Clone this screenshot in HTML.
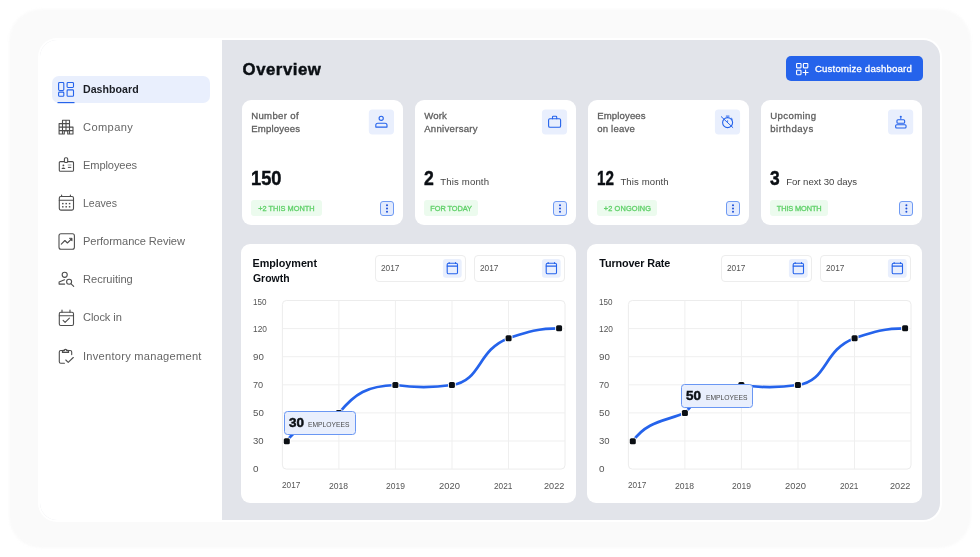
<!DOCTYPE html><html lang="en"><head><meta charset="utf-8"><title>Overview dashboard</title><style>
html,body{margin:0;padding:0;background:#fff;}
body{width:980px;height:557px;position:relative;overflow:hidden;font-family:'Liberation Sans',sans-serif;}
div,span,aside,main,nav,section,h1,h2,button,a{position:absolute;box-sizing:border-box;margin:0;padding:0;}
.t{white-space:nowrap;display:block;}
.frame{left:9px;top:9px;width:961.5px;height:538.5px;border-radius:32px;background:#fafafa;filter:blur(1.2px);}
.app{left:40px;top:40px;width:900px;height:480px;border-radius:17px;background:#e2e4ea;box-shadow:0 0 0 2px #fff;}
.sidebar{left:0;top:0;width:182px;height:100%;background:#fff;border-radius:17px 0 0 17px;}
.active{border-radius:7px;background:#e9effd;}
.card{background:#fff;border-radius:9px;}
.ibox{background:#e9effd;border-radius:4px;}
.badge{background:#ecfbee;border-radius:3px;}
.menu{background:#e3ebfd;border:1px solid #6f9af3;border-radius:3px;}
.btn{background:#2563eb;border-radius:5px;}
.inp{background:#fff;border:1px solid #ededed;border-radius:4px;}
.tip{background:#e9effd;border:1px solid #6a97f3;border-radius:3.5px;}
svg{position:absolute;left:0;top:0;}
</style></head><body>
<div class="frame"></div>
<div class="app"><aside class="sidebar"></aside></div>
<nav>
<div class="active" style="left:52px;top:75.8px;width:158px;height:27px;"></div>
<a class="t" style="left:83.0px;top:84.16px;font-size:10.6px;line-height:10.6px;font-weight:700;color:#1a1d24;letter-spacing:0.04px">Dashboard</a>
<a class="t" style="left:83.0px;top:121.96px;font-size:11.1px;line-height:11.1px;font-weight:400;color:#666;letter-spacing:0.39px">Company</a>
<a class="t" style="left:83.0px;top:160.06px;font-size:11.1px;line-height:11.1px;font-weight:400;color:#666;letter-spacing:-0.11px">Employees</a>
<a class="t" style="left:83.0px;top:198.15px;font-size:11.1px;line-height:11.1px;font-weight:400;color:#666;transform:scaleX(0.950);transform-origin:0 0;letter-spacing:0.00px">Leaves</a>
<a class="t" style="left:83.0px;top:236.26px;font-size:11.1px;line-height:11.1px;font-weight:400;color:#666;letter-spacing:-0.06px">Performance Review</a>
<a class="t" style="left:83.0px;top:274.37px;font-size:11.1px;line-height:11.1px;font-weight:400;color:#666;letter-spacing:-0.02px">Recruiting</a>
<a class="t" style="left:83.0px;top:312.46px;font-size:11.1px;line-height:11.1px;font-weight:400;color:#666;letter-spacing:-0.08px">Clock in</a>
<a class="t" style="left:83.0px;top:350.56px;font-size:11.1px;line-height:11.1px;font-weight:400;color:#666;letter-spacing:0.26px">Inventory management</a>
</nav>
<main>
<h1 class="t" style="left:242.6px;top:62.30px;font-size:16.8px;line-height:16.8px;font-weight:700;color:#0b0f14;-webkit-text-stroke:0.45px #0b0f14;letter-spacing:0.52px">Overview</h1>
<div class="btn" style="left:786px;top:55.8px;width:136.8px;height:25.6px;"></div>
<span class="t" style="left:814.9px;top:64.01px;font-size:9.6px;line-height:9.6px;font-weight:400;color:#ffffff;-webkit-text-stroke:0.3px #ffffff;letter-spacing:0.20px">Customize dashboard</span>
<section>
<div class="card" style="left:241.5px;top:100px;width:161.8px;height:124.8px;"></div>
<span class="t" style="left:251.2px;top:110.91px;font-size:9.6px;line-height:9.6px;font-weight:400;color:#5f5f5f;-webkit-text-stroke:0.3px #5f5f5f;letter-spacing:0.33px">Number of</span>
<span class="t" style="left:251.2px;top:123.60px;font-size:9.6px;line-height:9.6px;font-weight:400;color:#5f5f5f;-webkit-text-stroke:0.3px #5f5f5f;letter-spacing:0.19px">Employees</span>
<span class="t" style="left:251.2px;top:168.62px;font-size:19.5px;line-height:19.5px;font-weight:700;color:#0b0f14;-webkit-text-stroke:0.45px #0b0f14;transform:scaleX(0.937);transform-origin:0 0;letter-spacing:0.00px">150</span>
<div class="badge" style="left:251.1px;top:200.2px;width:70.6px;height:15.6px;"></div>
<span class="t" style="left:258.2px;top:204.80px;font-size:7.4px;line-height:7.4px;font-weight:400;color:#5fd068;-webkit-text-stroke:0.3px #5fd068;letter-spacing:0.01px">+2 THIS MONTH</span>
<div class="menu" style="left:380.1px;top:201.2px;width:13.8px;height:14.6px;"></div>
</section>
<section>
<div class="card" style="left:414.5px;top:100px;width:161.8px;height:124.8px;"></div>
<span class="t" style="left:424.2px;top:110.91px;font-size:9.6px;line-height:9.6px;font-weight:400;color:#5f5f5f;-webkit-text-stroke:0.3px #5f5f5f;letter-spacing:0.13px">Work</span>
<span class="t" style="left:424.2px;top:123.60px;font-size:9.6px;line-height:9.6px;font-weight:400;color:#5f5f5f;-webkit-text-stroke:0.3px #5f5f5f;letter-spacing:0.28px">Anniversary</span>
<span class="t" style="left:424.2px;top:168.62px;font-size:19.5px;line-height:19.5px;font-weight:700;color:#0b0f14;-webkit-text-stroke:0.45px #0b0f14;transform:scaleX(0.902);transform-origin:0 0;letter-spacing:0.00px">2</span>
<span class="t" style="left:440.3px;top:176.60px;font-size:9.6px;line-height:9.6px;font-weight:400;color:#444;letter-spacing:0.14px">This month</span>
<div class="badge" style="left:424.1px;top:200.2px;width:54px;height:15.6px;"></div>
<span class="t" style="left:430.3px;top:204.80px;font-size:7.4px;line-height:7.4px;font-weight:400;color:#5fd068;-webkit-text-stroke:0.3px #5fd068;letter-spacing:-0.07px">FOR TODAY</span>
<div class="menu" style="left:553.1px;top:201.2px;width:13.8px;height:14.6px;"></div>
</section>
<section>
<div class="card" style="left:587.5px;top:100px;width:161.8px;height:124.8px;"></div>
<span class="t" style="left:597.2px;top:110.91px;font-size:9.6px;line-height:9.6px;font-weight:400;color:#5f5f5f;-webkit-text-stroke:0.3px #5f5f5f;letter-spacing:0.12px">Employees</span>
<span class="t" style="left:597.2px;top:123.60px;font-size:9.6px;line-height:9.6px;font-weight:400;color:#5f5f5f;-webkit-text-stroke:0.3px #5f5f5f;letter-spacing:0.20px">on leave</span>
<span class="t" style="left:597.2px;top:168.62px;font-size:19.5px;line-height:19.5px;font-weight:700;color:#0b0f14;-webkit-text-stroke:0.45px #0b0f14;transform:scaleX(0.779);transform-origin:0 0;letter-spacing:0.00px">12</span>
<span class="t" style="left:620.4px;top:176.60px;font-size:9.6px;line-height:9.6px;font-weight:400;color:#444;letter-spacing:0.09px">This month</span>
<div class="badge" style="left:597.1px;top:200.2px;width:60.4px;height:15.6px;"></div>
<span class="t" style="left:603.8px;top:204.80px;font-size:7.4px;line-height:7.4px;font-weight:400;color:#5fd068;-webkit-text-stroke:0.3px #5fd068;letter-spacing:0.11px">+2 ONGOING</span>
<div class="menu" style="left:726.1px;top:201.2px;width:13.8px;height:14.6px;"></div>
</section>
<section>
<div class="card" style="left:760.5px;top:100px;width:161.8px;height:124.8px;"></div>
<span class="t" style="left:770.2px;top:110.91px;font-size:9.6px;line-height:9.6px;font-weight:400;color:#5f5f5f;-webkit-text-stroke:0.3px #5f5f5f;letter-spacing:0.40px">Upcoming</span>
<span class="t" style="left:770.2px;top:123.60px;font-size:9.6px;line-height:9.6px;font-weight:400;color:#5f5f5f;-webkit-text-stroke:0.3px #5f5f5f;letter-spacing:0.51px">birthdays</span>
<span class="t" style="left:770.2px;top:168.62px;font-size:19.5px;line-height:19.5px;font-weight:700;color:#0b0f14;-webkit-text-stroke:0.45px #0b0f14;transform:scaleX(0.893);transform-origin:0 0;letter-spacing:0.00px">3</span>
<span class="t" style="left:786.2px;top:176.60px;font-size:9.6px;line-height:9.6px;font-weight:400;color:#444;letter-spacing:-0.04px">For next 30 days</span>
<div class="badge" style="left:770.1px;top:200.2px;width:58px;height:15.6px;"></div>
<span class="t" style="left:776.8px;top:204.80px;font-size:7.4px;line-height:7.4px;font-weight:400;color:#5fd068;-webkit-text-stroke:0.3px #5fd068;letter-spacing:-0.13px">THIS MONTH</span>
<div class="menu" style="left:899.1px;top:201.2px;width:13.8px;height:14.6px;"></div>
</section>
<section>
<div class="card" style="left:241px;top:244px;width:335.2px;height:258.6px;"></div>
<div class="inp" style="left:375.4px;top:255.4px;width:90.6px;height:26.6px;"></div>
<div class="inp" style="left:474.4px;top:255.4px;width:90.6px;height:26.6px;"></div>
<span class="t" style="left:252.5px;top:257.80px;font-size:10.8px;line-height:10.8px;font-weight:700;color:#0b0f14;letter-spacing:-0.03px">Employment</span>
<span class="t" style="left:252.5px;top:272.50px;font-size:10.8px;line-height:10.8px;font-weight:700;color:#0b0f14;transform:scaleX(0.966);transform-origin:0 0;letter-spacing:0.00px">Growth</span>
<span class="t" style="left:381.0px;top:264.31px;font-size:9.2px;line-height:9.2px;font-weight:400;color:#555;transform:scaleX(0.905);transform-origin:0 0;letter-spacing:0.00px">2017</span>
<span class="t" style="left:480.0px;top:264.31px;font-size:9.2px;line-height:9.2px;font-weight:400;color:#555;transform:scaleX(0.905);transform-origin:0 0;letter-spacing:0.00px">2017</span>
<span class="t" style="left:252.6px;top:298.11px;font-size:9.0px;line-height:9.0px;font-weight:400;color:#555;transform:scaleX(0.898);transform-origin:0 0;letter-spacing:0.00px">150</span>
<span class="t" style="left:252.6px;top:324.70px;font-size:9.0px;line-height:9.0px;font-weight:400;color:#555;transform:scaleX(0.931);transform-origin:0 0;letter-spacing:0.00px">120</span>
<span class="t" style="left:252.6px;top:352.81px;font-size:9.0px;line-height:9.0px;font-weight:400;color:#555;transform:scaleX(1.078);transform-origin:0 0;letter-spacing:0.00px">90</span>
<span class="t" style="left:252.6px;top:380.92px;font-size:9.0px;line-height:9.0px;font-weight:400;color:#555;transform:scaleX(1.018);transform-origin:0 0;letter-spacing:0.00px">70</span>
<span class="t" style="left:252.6px;top:409.01px;font-size:9.0px;line-height:9.0px;font-weight:400;color:#555;transform:scaleX(1.078);transform-origin:0 0;letter-spacing:0.00px">50</span>
<span class="t" style="left:252.6px;top:437.11px;font-size:9.0px;line-height:9.0px;font-weight:400;color:#555;transform:scaleX(1.058);transform-origin:0 0;letter-spacing:0.00px">30</span>
<span class="t" style="left:252.6px;top:465.20px;font-size:9.0px;line-height:9.0px;font-weight:400;color:#555;transform:scaleX(1.097);transform-origin:0 0;letter-spacing:0.00px">0</span>
<span class="t" style="left:282.0px;top:480.21px;font-size:9.4px;line-height:9.4px;font-weight:400;color:#555;transform:scaleX(0.877);transform-origin:0 0;letter-spacing:0.00px">2017</span>
<span class="t" style="left:328.5px;top:481.01px;font-size:9.4px;line-height:9.4px;font-weight:400;color:#555;transform:scaleX(0.916);transform-origin:0 0;letter-spacing:0.00px">2018</span>
<span class="t" style="left:385.8px;top:481.01px;font-size:9.4px;line-height:9.4px;font-weight:400;color:#555;transform:scaleX(0.906);transform-origin:0 0;letter-spacing:0.00px">2019</span>
<span class="t" style="left:438.8px;top:481.01px;font-size:9.4px;line-height:9.4px;font-weight:400;color:#555;transform:scaleX(1.002);transform-origin:0 0;letter-spacing:0.00px">2020</span>
<span class="t" style="left:494.0px;top:481.01px;font-size:9.4px;line-height:9.4px;font-weight:400;color:#555;transform:scaleX(0.882);transform-origin:0 0;letter-spacing:0.00px">2021</span>
<span class="t" style="left:543.5px;top:481.01px;font-size:9.4px;line-height:9.4px;font-weight:400;color:#555;transform:scaleX(0.973);transform-origin:0 0;letter-spacing:0.00px">2022</span>
</section>
<section>
<div class="card" style="left:587px;top:244px;width:335.2px;height:258.6px;"></div>
<div class="inp" style="left:721.4px;top:255.4px;width:90.6px;height:26.6px;"></div>
<div class="inp" style="left:820.4px;top:255.4px;width:90.6px;height:26.6px;"></div>
<span class="t" style="left:599.3px;top:258.00px;font-size:10.8px;line-height:10.8px;font-weight:700;color:#0b0f14;letter-spacing:-0.12px">Turnover Rate</span>
<span class="t" style="left:727.0px;top:264.31px;font-size:9.2px;line-height:9.2px;font-weight:400;color:#555;transform:scaleX(0.905);transform-origin:0 0;letter-spacing:0.00px">2017</span>
<span class="t" style="left:826.0px;top:264.31px;font-size:9.2px;line-height:9.2px;font-weight:400;color:#555;transform:scaleX(0.905);transform-origin:0 0;letter-spacing:0.00px">2017</span>
<span class="t" style="left:598.6px;top:298.11px;font-size:9.0px;line-height:9.0px;font-weight:400;color:#555;transform:scaleX(0.898);transform-origin:0 0;letter-spacing:0.00px">150</span>
<span class="t" style="left:598.6px;top:324.70px;font-size:9.0px;line-height:9.0px;font-weight:400;color:#555;transform:scaleX(0.931);transform-origin:0 0;letter-spacing:0.00px">120</span>
<span class="t" style="left:598.6px;top:352.81px;font-size:9.0px;line-height:9.0px;font-weight:400;color:#555;transform:scaleX(1.078);transform-origin:0 0;letter-spacing:0.00px">90</span>
<span class="t" style="left:598.6px;top:380.92px;font-size:9.0px;line-height:9.0px;font-weight:400;color:#555;transform:scaleX(1.018);transform-origin:0 0;letter-spacing:0.00px">70</span>
<span class="t" style="left:598.6px;top:409.01px;font-size:9.0px;line-height:9.0px;font-weight:400;color:#555;transform:scaleX(1.078);transform-origin:0 0;letter-spacing:0.00px">50</span>
<span class="t" style="left:598.6px;top:437.11px;font-size:9.0px;line-height:9.0px;font-weight:400;color:#555;transform:scaleX(1.058);transform-origin:0 0;letter-spacing:0.00px">30</span>
<span class="t" style="left:598.6px;top:465.20px;font-size:9.0px;line-height:9.0px;font-weight:400;color:#555;transform:scaleX(1.097);transform-origin:0 0;letter-spacing:0.00px">0</span>
<span class="t" style="left:628.0px;top:480.21px;font-size:9.4px;line-height:9.4px;font-weight:400;color:#555;transform:scaleX(0.877);transform-origin:0 0;letter-spacing:0.00px">2017</span>
<span class="t" style="left:674.5px;top:481.01px;font-size:9.4px;line-height:9.4px;font-weight:400;color:#555;transform:scaleX(0.916);transform-origin:0 0;letter-spacing:0.00px">2018</span>
<span class="t" style="left:731.8px;top:481.01px;font-size:9.4px;line-height:9.4px;font-weight:400;color:#555;transform:scaleX(0.906);transform-origin:0 0;letter-spacing:0.00px">2019</span>
<span class="t" style="left:784.8px;top:481.01px;font-size:9.4px;line-height:9.4px;font-weight:400;color:#555;transform:scaleX(1.002);transform-origin:0 0;letter-spacing:0.00px">2020</span>
<span class="t" style="left:840.0px;top:481.01px;font-size:9.4px;line-height:9.4px;font-weight:400;color:#555;transform:scaleX(0.882);transform-origin:0 0;letter-spacing:0.00px">2021</span>
<span class="t" style="left:889.5px;top:481.01px;font-size:9.4px;line-height:9.4px;font-weight:400;color:#555;transform:scaleX(0.973);transform-origin:0 0;letter-spacing:0.00px">2022</span>
</section>
<svg width="980" height="557" viewBox="0 0 980 557">
<rect x="282.4" y="300.5" width="282.6" height="168.6" rx="4" fill="none" stroke="#ececec" stroke-width="1"/><line x1="282.4" x2="565.0" y1="328.6" y2="328.6" stroke="#efefef" stroke-width="1"/><line x1="282.4" x2="565.0" y1="356.7" y2="356.7" stroke="#efefef" stroke-width="1"/><line x1="282.4" x2="565.0" y1="384.8" y2="384.8" stroke="#efefef" stroke-width="1"/><line x1="282.4" x2="565.0" y1="412.9" y2="412.9" stroke="#efefef" stroke-width="1"/><line x1="282.4" x2="565.0" y1="441.0" y2="441.0" stroke="#efefef" stroke-width="1"/><line x1="338.9" x2="338.9" y1="300.5" y2="469.1" stroke="#efefef" stroke-width="1"/><line x1="395.4" x2="395.4" y1="300.5" y2="469.1" stroke="#efefef" stroke-width="1"/><line x1="452.0" x2="452.0" y1="300.5" y2="469.1" stroke="#efefef" stroke-width="1"/><line x1="508.5" x2="508.5" y1="300.5" y2="469.1" stroke="#efefef" stroke-width="1"/><path d="M286.8 441.3C300.8 421.3 318.9 421.1 338.9 413.1C354.9 393.1 367.4 386.0 395.4 385.0C415.4 388.0 431.9 388.0 451.9 385.0C481.9 381.0 476.6 350.2 508.6 338.2C526.6 332.2 537.1 328.3 559.1 328.3" fill="none" stroke="#2563eb" stroke-width="2.7" stroke-linecap="round"/><rect x="282.9" y="437.4" width="7.8" height="7.8" rx="2.3" fill="#fff"/><rect x="283.8" y="438.3" width="6" height="6" rx="1.5" fill="#0b0f14"/><rect x="335.0" y="409.2" width="7.8" height="7.8" rx="2.3" fill="#fff"/><rect x="335.9" y="410.1" width="6" height="6" rx="1.5" fill="#0b0f14"/><rect x="391.5" y="381.1" width="7.8" height="7.8" rx="2.3" fill="#fff"/><rect x="392.4" y="382.0" width="6" height="6" rx="1.5" fill="#0b0f14"/><rect x="448.0" y="381.1" width="7.8" height="7.8" rx="2.3" fill="#fff"/><rect x="448.9" y="382.0" width="6" height="6" rx="1.5" fill="#0b0f14"/><rect x="504.7" y="334.3" width="7.8" height="7.8" rx="2.3" fill="#fff"/><rect x="505.6" y="335.2" width="6" height="6" rx="1.5" fill="#0b0f14"/><rect x="555.2" y="324.4" width="7.8" height="7.8" rx="2.3" fill="#fff"/><rect x="556.1" y="325.3" width="6" height="6" rx="1.5" fill="#0b0f14"/>
<rect x="628.4" y="300.5" width="282.6" height="168.6" rx="4" fill="none" stroke="#ececec" stroke-width="1"/><line x1="628.4" x2="911.0" y1="328.6" y2="328.6" stroke="#efefef" stroke-width="1"/><line x1="628.4" x2="911.0" y1="356.7" y2="356.7" stroke="#efefef" stroke-width="1"/><line x1="628.4" x2="911.0" y1="384.8" y2="384.8" stroke="#efefef" stroke-width="1"/><line x1="628.4" x2="911.0" y1="412.9" y2="412.9" stroke="#efefef" stroke-width="1"/><line x1="628.4" x2="911.0" y1="441.0" y2="441.0" stroke="#efefef" stroke-width="1"/><line x1="684.9" x2="684.9" y1="300.5" y2="469.1" stroke="#efefef" stroke-width="1"/><line x1="741.4" x2="741.4" y1="300.5" y2="469.1" stroke="#efefef" stroke-width="1"/><line x1="798.0" x2="798.0" y1="300.5" y2="469.1" stroke="#efefef" stroke-width="1"/><line x1="854.5" x2="854.5" y1="300.5" y2="469.1" stroke="#efefef" stroke-width="1"/><path d="M632.8 441.3C646.8 421.3 664.9 421.1 684.9 413.1C700.9 393.1 713.4 386.0 741.4 385.0C761.4 388.0 777.9 388.0 797.9 385.0C827.9 381.0 822.6 350.2 854.6 338.2C872.6 332.2 883.1 328.3 905.1 328.3" fill="none" stroke="#2563eb" stroke-width="2.7" stroke-linecap="round"/><rect x="628.9" y="437.4" width="7.8" height="7.8" rx="2.3" fill="#fff"/><rect x="629.8" y="438.3" width="6" height="6" rx="1.5" fill="#0b0f14"/><rect x="681.0" y="409.2" width="7.8" height="7.8" rx="2.3" fill="#fff"/><rect x="681.9" y="410.1" width="6" height="6" rx="1.5" fill="#0b0f14"/><rect x="737.5" y="381.1" width="7.8" height="7.8" rx="2.3" fill="#fff"/><rect x="738.4" y="382.0" width="6" height="6" rx="1.5" fill="#0b0f14"/><rect x="794.0" y="381.1" width="7.8" height="7.8" rx="2.3" fill="#fff"/><rect x="794.9" y="382.0" width="6" height="6" rx="1.5" fill="#0b0f14"/><rect x="850.7" y="334.3" width="7.8" height="7.8" rx="2.3" fill="#fff"/><rect x="851.6" y="335.2" width="6" height="6" rx="1.5" fill="#0b0f14"/><rect x="901.2" y="324.4" width="7.8" height="7.8" rx="2.3" fill="#fff"/><rect x="902.1" y="325.3" width="6" height="6" rx="1.5" fill="#0b0f14"/>
<rect x="368.8" y="109.5" width="25.2" height="24.9" rx="3.6" fill="#e9effd"/><rect x="541.9" y="109.5" width="25.2" height="24.9" rx="3.6" fill="#e9effd"/><rect x="714.9" y="109.5" width="25.2" height="24.9" rx="3.6" fill="#e9effd"/><rect x="888.0" y="109.5" width="25.2" height="24.9" rx="3.6" fill="#e9effd"/><rect x="442.9" y="259" width="18.8" height="18.8" rx="3" fill="#e9effd"/><rect x="541.9" y="259" width="18.8" height="18.8" rx="3" fill="#e9effd"/><rect x="788.9" y="259" width="18.8" height="18.8" rx="3" fill="#e9effd"/><rect x="887.9" y="259" width="18.8" height="18.8" rx="3" fill="#e9effd"/><g fill="none" stroke="#2563eb" stroke-width="1.1" stroke-linecap="round" stroke-linejoin="round"><rect x="58.6" y="82.5" width="5.2" height="8" rx="0.9"/><rect x="67.1" y="82.5" width="6.4" height="5" rx="0.9"/><rect x="58.6" y="92.1" width="5.2" height="4.2" rx="0.9"/><rect x="67.1" y="89.9" width="6.4" height="6.4" rx="0.9"/></g><line x1="57.5" y1="102.6" x2="74.5" y2="102.6" stroke="#2563eb" stroke-width="1.2"/><g fill="none" stroke="#4d4d4d" stroke-width="1.1" stroke-linecap="round" stroke-linejoin="round" stroke="#3f3f3f" stroke-width="1.05"><path d="M62.5 134V120.2h7V134M59.1 134v-10.4h3.4M69.5 127.1h3.5v6.9M59.1 127.1h13.9M59.1 130.6h13.9M62.5 123.6h7M66 120.2V131M59.1 134h5.2v-3h3.4v3H73"/></g><g fill="none" stroke="#4d4d4d" stroke-width="1.1" stroke-linecap="round" stroke-linejoin="round"><path d="M64.3 161.6H60.4a1.1 1.1 0 0 0-1.1 1.1v7.5a1.1 1.1 0 0 0 1.1 1.1h12a1.1 1.1 0 0 0 1.1-1.1v-7.5a1.1 1.1 0 0 0-1.1-1.1H67.8"/><rect x="64.4" y="157.8" width="3.3" height="4.7" rx="1.3"/><path d="M68.3 167.4h2.6" stroke-width="1"/><path d="M68.3 165h2.6" stroke="#bbb" stroke-width="1.4"/></g><circle cx="63.4" cy="165.4" r="0.9" fill="#4d4d4d"/><path d="M61.3 168.9q2.1-2.6 4.2 0z" fill="#4d4d4d"/><g fill="none" stroke="#4d4d4d" stroke-width="1.1" stroke-linecap="round" stroke-linejoin="round"><rect x="59.3" y="196.5" width="14.2" height="13.6" rx="1.5"/><path d="M59.3 200.3h14.2M61.6 195v1.4M70.4 195v1.4"/></g><rect x="62.05" y="202.9" width="1.5" height="1.4" fill="#4d4d4d"/><rect x="65.45" y="202.9" width="1.5" height="1.4" fill="#4d4d4d"/><rect x="68.85" y="202.9" width="1.5" height="1.4" fill="#4d4d4d"/><rect x="62.05" y="206.10000000000002" width="1.5" height="1.4" fill="#4d4d4d"/><rect x="65.45" y="206.10000000000002" width="1.5" height="1.4" fill="#4d4d4d"/><rect x="68.85" y="206.10000000000002" width="1.5" height="1.4" fill="#4d4d4d"/><g fill="none" stroke="#4d4d4d" stroke-width="1.1" stroke-linecap="round" stroke-linejoin="round" stroke-width="1"><rect x="59" y="233.8" width="15.4" height="15.4" rx="2"/><path d="M61.3 244.2l3.6-3.7 2.5 2.5 4.2-4.2" stroke-width="1.1"/></g><path d="M69.2 238.2h2.9v2.9z" fill="#4d4d4d" stroke="#4d4d4d" stroke-width="0.6" stroke-linejoin="round"/><g fill="none" stroke="#4d4d4d" stroke-width="1.1" stroke-linecap="round" stroke-linejoin="round" stroke-width="1.15"><circle cx="64.7" cy="274.8" r="2.55"/><path d="M64.5 279.8l-5.4 2.1v2.2h5.5"/><circle cx="69.1" cy="281.8" r="2.5"/><path d="M71.1 283.8l2.6 2.5"/></g><g fill="none" stroke="#4d4d4d" stroke-width="1.1" stroke-linecap="round" stroke-linejoin="round"><rect x="59.3" y="312.2" width="14.2" height="13.3" rx="1.5"/><path d="M59.3 315.7h14.2M62 310v2.2M70 310v2.2" /><path d="M63.1 320.4l2 2 4.3-4.2"/></g><g fill="none" stroke="#4d4d4d" stroke-width="1.1" stroke-linecap="round" stroke-linejoin="round"><path d="M64.4 363.2H60.8a1.5 1.5 0 0 1-1.5-1.5V352a1.5 1.5 0 0 1 1.5-1.5h1.6M68.6 350.5h1.6a1.5 1.5 0 0 1 1.5 1.5v2.6M65.8 360l2.4 2.3 5.1-4.8"/><path d="M62.5 352.4v-1.2q0-.7.7-.7h1.1a1.2 1.2 0 0 1 2.4 0h1.1q.7 0 .7.7v1.2z" stroke-width="1.3"/></g><g fill="none" stroke="#fff" stroke-width="1.1" stroke-linejoin="round" stroke-linecap="round"><rect x="796.6" y="63.5" width="4.4" height="4.4" rx="0.6"/><rect x="803.4" y="63.5" width="4.4" height="4.4" rx="0.6"/><rect x="796.6" y="70.3" width="4.4" height="4.4" rx="0.6"/><path d="M805.6 70v5M803.1 72.5h5"/></g><g fill="none" stroke="#2563eb" stroke-width="1.1" stroke-linecap="round" stroke-linejoin="round" stroke-width="1.5"><circle cx="381.2" cy="118.3" r="2.1"/><path d="M375.8 127.1v-1.9a2 2 0 0 1 2-2h7.2a2 2 0 0 1 2 2v1.9z"/></g><g fill="none" stroke="#2563eb" stroke-width="1.1" stroke-linecap="round" stroke-linejoin="round" stroke-width="1.2"><rect x="548.6" y="118.7" width="12" height="8.5" rx="1.3"/><path d="M552.5 118.7v-1.6a.9.9 0 0 1 .9-.9h2.4a.9.9 0 0 1 .9.9v1.6"/></g><g fill="none" stroke="#2563eb" stroke-width="1.1" stroke-linecap="round" stroke-linejoin="round" stroke="#4a7df0" stroke-width="0.95"><circle cx="727.6" cy="122.6" r="5"/><path d="M726.3 116.1h2.7M731.5 118.3l.9.8M721.3 116.7l11.5 10.8" stroke-width="1"/><path d="M727.6 120.6v1.2" stroke-width="0.8"/></g><g fill="none" stroke="#2563eb" stroke-width="1.1" stroke-linecap="round" stroke-linejoin="round" stroke-width="1.5"><rect x="895.65" y="124.75" width="10.4" height="3.25" rx="1"/><rect x="896.95" y="119.75" width="7.7" height="3.5" rx="1"/><path d="M900.8 119v-1.2" stroke-width="1"/></g><circle cx="900.8" cy="116.7" r="1.05" fill="#2563eb"/><circle cx="387" cy="205.3" r="1" fill="#1d4fd8"/><circle cx="387" cy="208.5" r="1" fill="#1d4fd8"/><circle cx="387" cy="211.7" r="1" fill="#1d4fd8"/><circle cx="560" cy="205.3" r="1" fill="#1d4fd8"/><circle cx="560" cy="208.5" r="1" fill="#1d4fd8"/><circle cx="560" cy="211.7" r="1" fill="#1d4fd8"/><circle cx="733" cy="205.3" r="1" fill="#1d4fd8"/><circle cx="733" cy="208.5" r="1" fill="#1d4fd8"/><circle cx="733" cy="211.7" r="1" fill="#1d4fd8"/><circle cx="906.4" cy="205.3" r="1" fill="#1d4fd8"/><circle cx="906.4" cy="208.5" r="1" fill="#1d4fd8"/><circle cx="906.4" cy="211.7" r="1" fill="#1d4fd8"/><g fill="none" stroke="#2563eb" stroke-width="1.1" stroke-linecap="round" stroke-linejoin="round" stroke-width="1.15"><rect x="447.20" y="263.2" width="10.3" height="10.6" rx="1.4"/><path d="M447.20 266.1h10.3M449.15 262.5v1M455.55 262.5v1"/></g><g fill="none" stroke="#2563eb" stroke-width="1.1" stroke-linecap="round" stroke-linejoin="round" stroke-width="1.15"><rect x="546.20" y="263.2" width="10.3" height="10.6" rx="1.4"/><path d="M546.20 266.1h10.3M548.15 262.5v1M554.55 262.5v1"/></g><g fill="none" stroke="#2563eb" stroke-width="1.1" stroke-linecap="round" stroke-linejoin="round" stroke-width="1.15"><rect x="793.20" y="263.2" width="10.3" height="10.6" rx="1.4"/><path d="M793.20 266.1h10.3M795.15 262.5v1M801.55 262.5v1"/></g><g fill="none" stroke="#2563eb" stroke-width="1.1" stroke-linecap="round" stroke-linejoin="round" stroke-width="1.15"><rect x="892.20" y="263.2" width="10.3" height="10.6" rx="1.4"/><path d="M892.20 266.1h10.3M894.15 262.5v1M900.55 262.5v1"/></g>
</svg>
<div class="tip" style="left:284px;top:411px;width:71.6px;height:23.8px;"></div>
<span class="t" style="left:289.0px;top:417.31px;font-size:12.3px;line-height:12.3px;font-weight:700;color:#0b0f14;-webkit-text-stroke:0.45px #0b0f14;transform:scaleX(1.096);transform-origin:0 0;letter-spacing:0.00px">30</span>
<span class="t" style="left:308.4px;top:421.12px;font-size:7.0px;line-height:7.0px;font-weight:400;color:#4a4a4a;transform:scaleX(0.961);transform-origin:0 0;letter-spacing:0.00px">EMPLOYEES</span>
<div class="tip" style="left:680.8px;top:383.8px;width:71.8px;height:23.9px;"></div>
<span class="t" style="left:686.4px;top:390.40px;font-size:12.3px;line-height:12.3px;font-weight:700;color:#0b0f14;-webkit-text-stroke:0.45px #0b0f14;transform:scaleX(1.096);transform-origin:0 0;letter-spacing:0.00px">50</span>
<span class="t" style="left:705.8px;top:394.41px;font-size:7.0px;line-height:7.0px;font-weight:400;color:#4a4a4a;transform:scaleX(0.961);transform-origin:0 0;letter-spacing:0.00px">EMPLOYEES</span>
</main>
</body></html>
